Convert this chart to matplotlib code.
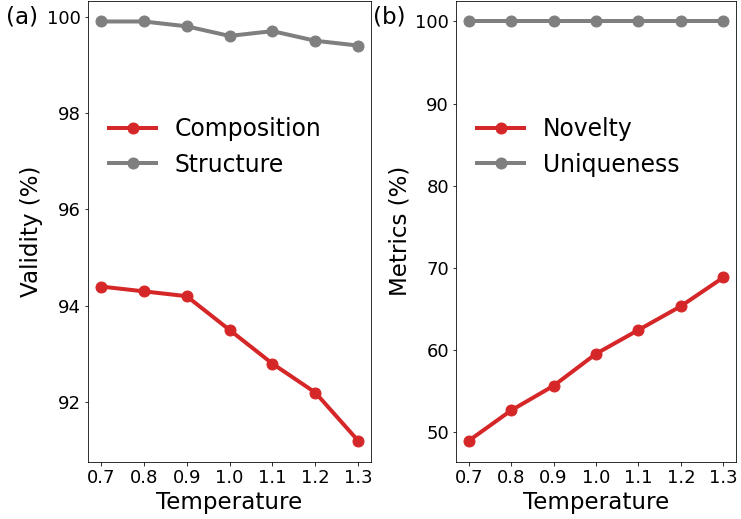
import matplotlib

matplotlib.use("Agg")
import matplotlib.pyplot as plt

temperature = [0.7, 0.8, 0.9, 1.0, 1.1, 1.2, 1.3]

composition = [94.4, 94.3, 94.2, 93.5, 92.8, 92.2, 91.2]
structure = [99.9, 99.9, 99.8, 99.6, 99.7, 99.5, 99.4]

novelty = [48.9, 52.6, 55.6, 59.5, 62.4, 65.3, 68.8]
uniqueness = [100, 100, 100, 100, 100, 100, 100]

red = "#d62728"
gray = "#7f7f7f"

# drawn at 72 dpi so point sizes map 1:1 to pixels
fig = plt.figure(figsize=(741 / 72, 519 / 72), dpi=72)
ax1 = fig.add_axes([0.1188, 0.1104, 0.3819, 0.8886])
ax2 = fig.add_axes([0.6154, 0.1104, 0.3779, 0.8886])

ax1.plot(temperature, composition, color=red, marker="o", lw=4, ms=11, label="Composition")
ax1.plot(temperature, structure, color=gray, marker="o", lw=4, ms=11, label="Structure")
ax1.set_ylabel("Validity (%)", fontsize=23)

ax2.plot(temperature, novelty, color=red, marker="o", lw=4, ms=11, label="Novelty")
ax2.plot(temperature, uniqueness, color=gray, marker="o", lw=4, ms=11, label="Uniqueness")
ax2.set_ylabel("Metrics (%)", fontsize=23)
ax2.set_yticks([50, 60, 70, 80, 90, 100])

for ax in (ax1, ax2):
    ax.set_xlabel("Temperature", fontsize=23)
    ax.set_xticks(temperature)
    ax.tick_params(labelsize=18)
    ax.legend(frameon=False, fontsize=23.5, loc="center left", bbox_to_anchor=(0.0, 0.683))

fig.text(6 / 741, 1 - 17 / 519, "(a)", fontsize=23, ha="left", va="center")
fig.text(373 / 741, 1 - 17 / 519, "(b)", fontsize=23, ha="left", va="center")

fig.savefig("out.png", dpi=72)
plt.close(fig)
